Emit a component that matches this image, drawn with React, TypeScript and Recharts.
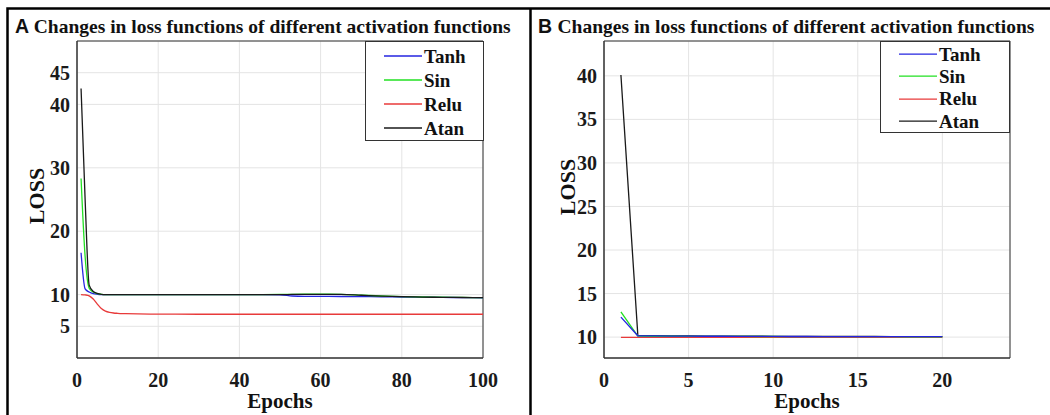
import { LineChart, Line, XAxis, YAxis, CartesianGrid, ReferenceArea, Legend } from 'recharts';

const FONT = '"Liberation Serif", "Times New Roman", serif';
const SANS = '"Liberation Sans", Arial, sans-serif';

const seriesNames = ['Tanh', 'Sin', 'Relu', 'Atan'];
const seriesColors = ['#2525e0', '#22e022', '#e83a3a', '#1a1a1a'];

// panel A: 100 epochs
const epochsA = [1, 2, 3, 4, 5, 6, 7, 8, 9, 10, 12, 15, 20, 30, 40, 50, 53, 56, 60, 65, 70, 75, 80, 85, 90, 95, 100];
const tanhA = [16.6, 10.9, 10.4, 10.15, 10.05, 10.0, 10.0, 10.0, 10.0, 10.0, 10.0, 10.0, 10.0, 10.0, 10.0, 9.98, 9.78, 9.72, 9.72, 9.7, 9.68, 9.65, 9.62, 9.6, 9.56, 9.53, 9.5];
const sinA = [28.3, 16.0, 11.0, 10.4, 10.15, 10.05, 10.0, 10.0, 10.0, 10.0, 10.0, 10.0, 10.0, 10.0, 10.0, 10.02, 10.05, 10.06, 10.06, 10.04, 9.92, 9.78, 9.68, 9.62, 9.58, 9.55, 9.52];
const reluA = [10.0, 9.95, 9.8, 9.3, 8.5, 7.8, 7.4, 7.2, 7.1, 7.05, 7.0, 6.95, 6.92, 6.9, 6.9, 6.9, 6.9, 6.9, 6.9, 6.9, 6.9, 6.9, 6.9, 6.9, 6.9, 6.9, 6.9];
const atanA = [42.5, 25.0, 11.5, 10.5, 10.2, 10.05, 10.0, 10.0, 10.0, 10.0, 10.0, 10.0, 10.0, 10.0, 10.0, 10.0, 10.02, 10.03, 10.03, 10.02, 9.9, 9.77, 9.67, 9.61, 9.57, 9.54, 9.51];

// panel B: 20 epochs
const epochsB = [1, 2, 3, 4, 5, 6, 7, 8, 9, 10, 11, 12, 13, 14, 15, 16, 17, 18, 19, 20];
const tanhB = [12.3, 10.15, 10.13, 10.12, 10.11, 10.1, 10.1, 10.09, 10.08, 10.08, 10.07, 10.07, 10.06, 10.06, 10.06, 10.05, 10.05, 10.05, 10.05, 10.05];
const sinB = [12.9, 10.12, 10.1, 10.1, 10.09, 10.09, 10.08, 10.08, 10.07, 10.07, 10.06, 10.06, 10.06, 10.05, 10.05, 10.05, 10.05, 10.04, 10.04, 10.04];
const reluB = [9.97, 9.97, 9.97, 9.97, 9.97, 9.97, 9.97, 9.97, 9.97, 9.97, 9.97, 9.97, 9.97, 9.97, 9.97, 9.97, 9.97, 9.97, 9.97, 9.97];
const atanB = [40.1, 10.2, 10.16, 10.14, 10.13, 10.12, 10.11, 10.1, 10.1, 10.09, 10.09, 10.08, 10.08, 10.07, 10.07, 10.07, 10.06, 10.06, 10.06, 10.06];

const xTicksA = [0, 20, 40, 60, 80, 100];
const yTicksA = [5, 10, 20, 30, 40, 45];
const xTicksB = [0, 5, 10, 15, 20];
const yTicksB = [10, 15, 20, 25, 30, 35, 40];

const buildRows = (epochs: number[], cols: number[][]) =>
  epochs.map((e, i) => {
    const row: Record<string, number> = { epoch: e };
    seriesNames.forEach((n, k) => (row[n] = cols[k][i]));
    return row;
  });

const dataA = buildRows(epochsA, [tanhA, sinA, reluA, atanA]);
const dataB = buildRows(epochsB, [tanhB, sinB, reluB, atanB]);

const tickStyle = { fill: '#1a1a1a', fontSize: 20, fontFamily: FONT, fontWeight: 'bold' as const };

const LegendBox = ({ width, rowH, padTop, padBottom }: { width: number; rowH: number; padTop: number; padBottom: number }) => (
  <div
    style={{
      border: '1px solid #333',
      background: '#fff',
      width,
      paddingTop: padTop,
      paddingBottom: padBottom,
      boxSizing: 'border-box',
      fontFamily: FONT,
      fontWeight: 'bold',
      fontSize: 19,
      color: '#111',
    }}
  >
    {seriesNames.map((n, i) => (
      <div key={n} style={{ display: 'flex', alignItems: 'center', height: rowH }}>
        <svg width={58} height={rowH} style={{ flex: 'none' }}>
          <line x1={18} x2={56} y1={rowH / 2} y2={rowH / 2} stroke={seriesColors[i]} strokeWidth={1.3} />
        </svg>
        <span style={{ lineHeight: 1 }}>{n}</span>
      </div>
    ))}
  </div>
);

interface PanelProps {
  data: Record<string, number>[];
  width: number;
  margin: { top: number; right: number; bottom: number; left: number };
  xDomain: [number, number];
  yDomain: [number, number];
  xTicks: number[];
  yTicks: number[];
  curve: 'monotone' | 'linear';
  order: number[];
  legendLeft: number;
  legendWidth: number;
  legendRowH: number;
  legendPadTop: number;
  legendPadBottom: number;
}

const Panel = (p: PanelProps) => (
  <LineChart width={p.width} height={415} data={p.data} margin={p.margin}>
    <CartesianGrid stroke="#e4e4e4" strokeWidth={1} />
    <XAxis
      dataKey="epoch"
      type="number"
      domain={p.xDomain}
      ticks={p.xTicks}
      allowDataOverflow
      tick={tickStyle}
      tickLine={false}
      tickSize={0}
      tickMargin={15}
      axisLine={{ stroke: '#333' }}
      height={30}
    />
    <YAxis
      type="number"
      domain={p.yDomain}
      ticks={p.yTicks}
      allowDataOverflow
      tick={tickStyle}
      tickLine={false}
      tickSize={0}
      tickMargin={7}
      axisLine={{ stroke: '#333' }}
      width={40}
    />
    <ReferenceArea
      x1={p.xDomain[0]}
      x2={p.xDomain[1]}
      y1={p.yDomain[0]}
      y2={p.yDomain[1]}
      fill="none"
      fillOpacity={0}
      stroke="#333"
      strokeWidth={1}
    />
    {p.order.map((k) => (
      <Line
        key={seriesNames[k]}
        type={p.curve}
        dataKey={seriesNames[k]}
        stroke={seriesColors[k]}
        strokeWidth={1.3}
        dot={false}
        isAnimationActive={false}
      />
    ))}
    <Legend
      layout="vertical"
      align="center"
      verticalAlign="middle"
      wrapperStyle={{ left: p.legendLeft, top: p.margin.top, width: p.legendWidth }}
      content={() => (
        <LegendBox width={p.legendWidth} rowH={p.legendRowH} padTop={p.legendPadTop} padBottom={p.legendPadBottom} />
      )}
    />
  </LineChart>
);

const App = () => {
  return (
    <div style={{ position: 'absolute', left: 0, top: 0, width: 1050, height: 415, background: '#fff', overflow: 'hidden' }}>
      <div style={{ position: 'absolute', left: 0, top: 0 }}>
        <Panel
          data={dataA}
          width={530}
          margin={{ top: 41, right: 47, bottom: 27, left: 37 }}
          xDomain={[0, 100]}
          yDomain={[0, 50]}
          xTicks={xTicksA}
          yTicks={yTicksA}
          curve="monotone"
          order={[0, 1, 2, 3]}
          legendLeft={365}
          legendWidth={119}
          legendRowH={24}
          legendPadTop={2}
          legendPadBottom={0}
        />
      </div>
      <div style={{ position: 'absolute', left: 530, top: 0 }}>
        <Panel
          data={dataB}
          width={520}
          margin={{ top: 41, right: 40, bottom: 27, left: 34 }}
          xDomain={[0, 24]}
          yDomain={[7.6, 44]}
          xTicks={xTicksB}
          yTicks={yTicksB}
          curve="linear"
          order={[3, 2, 1, 0]}
          legendLeft={350}
          legendWidth={130}
          legendRowH={22.3}
          legendPadTop={1}
          legendPadBottom={0}
        />
      </div>
      <svg width={1050} height={415} style={{ position: 'absolute', left: 0, top: 0, pointerEvents: 'none' }}>
        <rect x={7.5} y={8.5} width={1060} height={420} fill="none" stroke="#000" strokeWidth={2.5} />
        <line x1={530.5} x2={530.5} y1={8} y2={415} stroke="#000" strokeWidth={2.5} />
        <text x={15} y={33} fontSize={19.5} fontWeight="bold" fill="#111">
          <tspan fontFamily={SANS}>A </tspan>
          <tspan fontFamily={FONT}>Changes in loss functions of different activation functions</tspan>
        </text>
        <text x={538} y={33} fontSize={19.5} fontWeight="bold" fill="#111">
          <tspan fontFamily={SANS}>B </tspan>
          <tspan fontFamily={FONT}>Changes in loss functions of different activation functions</tspan>
        </text>
        <text
          transform="translate(36,196) rotate(-90)"
          textAnchor="middle"
          dominantBaseline="central"
          fontFamily={FONT}
          fontWeight="bold"
          fontSize={22}
          fill="#111"
        >
          LOSS
        </text>
        <text
          transform="translate(567,187) rotate(-90)"
          textAnchor="middle"
          dominantBaseline="central"
          fontFamily={FONT}
          fontWeight="bold"
          fontSize={22}
          fill="#111"
        >
          LOSS
        </text>
        <text x={280} y={408} textAnchor="middle" fontFamily={FONT} fontWeight="bold" fontSize={21} fill="#111">
          Epochs
        </text>
        <text x={807} y={408} textAnchor="middle" fontFamily={FONT} fontWeight="bold" fontSize={21} fill="#111">
          Epochs
        </text>
      </svg>
    </div>
  );
};

export default App;
